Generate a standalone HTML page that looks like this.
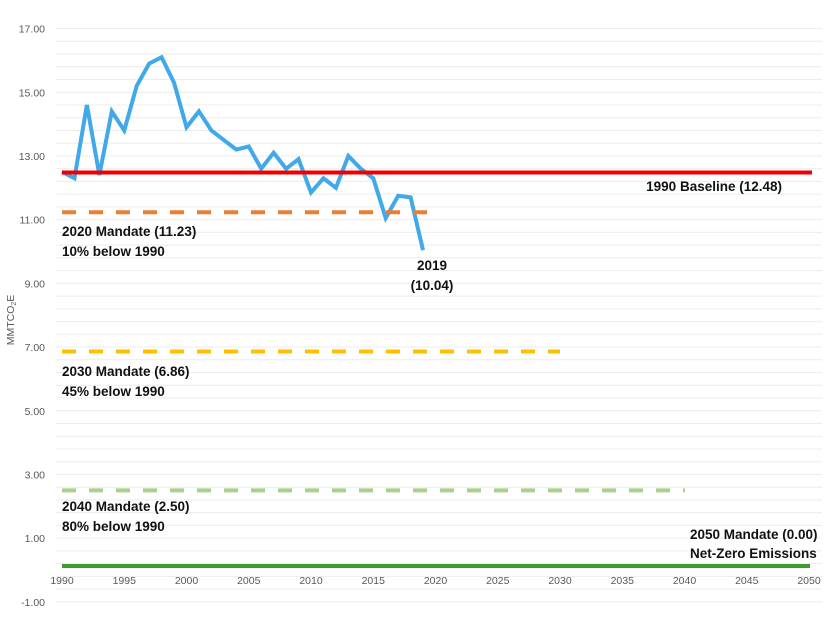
<!DOCTYPE html>
<html><head><meta charset="utf-8">
<style>
html,body{margin:0;padding:0;background:#fff;}
svg{display:block;font-family:"Liberation Sans",sans-serif;}
.t{font-size:10.5px;fill:#595959;}
.b{font-size:13.5px;font-weight:bold;fill:#111;}
</style></head><body>
<svg id="s" width="826" height="620" viewBox="0 0 826 620" xmlns="http://www.w3.org/2000/svg">
<g id="grid"></g>
<g id="lab"></g>
<polyline id="blue" fill="none" stroke="#41a9ea" stroke-width="4" stroke-linejoin="miter"/>
<line x1="62" x2="812" y1="172.5" y2="172.5" stroke="#f00000" stroke-width="4"/>
<line x1="62" x2="436" y1="212.3" y2="212.3" stroke="#ed7d31" stroke-width="4" stroke-dasharray="14 13"/>
<line x1="62" x2="560" y1="351.5" y2="351.5" stroke="#ffc000" stroke-width="4" stroke-dasharray="14 13"/>
<line x1="62" x2="685" y1="490.4" y2="490.4" stroke="#a9d18e" stroke-width="4" stroke-dasharray="14 13"/>
<line x1="62" x2="810" y1="566" y2="566" stroke="#3e9a2f" stroke-width="4"/>
<text class="b" x="782" y="191" text-anchor="end">1990 Baseline (12.48)</text>
<text class="b" x="62" y="236">2020 Mandate (11.23)</text>
<text class="b" x="62" y="256">10% below 1990</text>
<text class="b" x="432" y="270" text-anchor="middle">2019</text>
<text class="b" x="432" y="290" text-anchor="middle">(10.04)</text>
<text class="b" x="62" y="376">2030 Mandate (6.86)</text>
<text class="b" x="62" y="396">45% below 1990</text>
<text class="b" x="62" y="511">2040 Mandate (2.50)</text>
<text class="b" x="62" y="531">80% below 1990</text>
<text class="b" x="690" y="539">2050 Mandate (0.00)</text>
<text class="b" x="690" y="558">Net-Zero Emissions</text>
<text class="t" x="14" y="320" transform="rotate(-90 14 320)" text-anchor="middle">MMTCO<tspan font-size="7" dy="2">2</tspan><tspan dy="-2">E</tspan></text>
</svg>
<script>
var NS="http://www.w3.org/2000/svg";
function Y(v){return 570-v*31.85;}
function X(y){return 62+(y-1990)*12.45;}
var g=document.getElementById("grid"),l=document.getElementById("lab");
function el(p,t,a,txt){var e=document.createElementNS(NS,t);for(var k in a)e.setAttribute(k,a[k]);if(txt)e.textContent=txt;p.appendChild(e);}
for(var i=0;i<=45;i++){var v=-1+i*0.4,y=Y(v);el(g,"line",{x1:56,x2:822,y1:y,y2:y,stroke:"#ececec","stroke-width":1});}
for(var v=-1;v<=17;v+=2){el(l,"text",{x:45,y:Y(v)+4,"class":"t","text-anchor":"end"},v.toFixed(2));}
for(var yr=1990;yr<=2050;yr+=5){el(l,"text",{x:X(yr),y:584,"class":"t","text-anchor":"middle"},String(yr));}
var d=[12.5,12.3,14.6,12.4,14.4,13.8,15.2,15.9,16.1,15.3,13.9,14.4,13.8,13.5,13.2,13.3,12.6,13.1,12.6,12.9,11.85,12.3,12.0,13.0,12.6,12.3,11.05,11.75,11.7,10.04];
document.getElementById("blue").setAttribute("points",d.map(function(v,i){return X(1990+i)+","+Y(v);}).join(" "));
</script>
</body></html>
